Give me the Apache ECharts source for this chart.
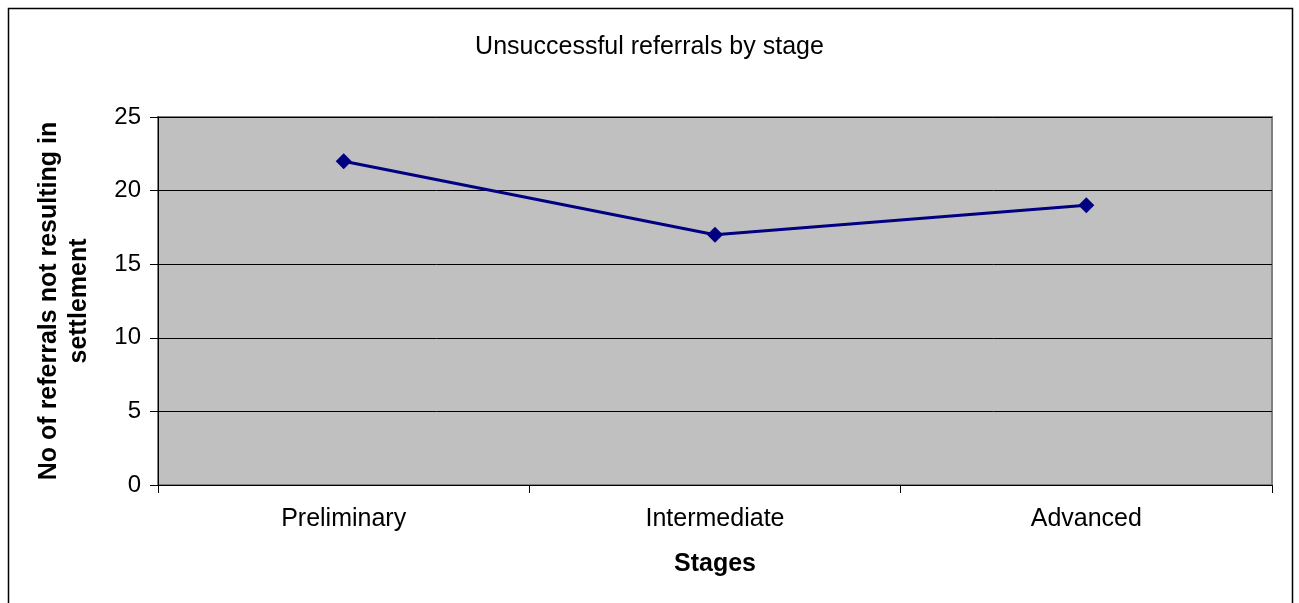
<!DOCTYPE html>
<html>
<head>
<meta charset="utf-8">
<script src="https://cdn.jsdelivr.net/npm/echarts@6/dist/echarts.min.js"></script>
<style>
html,body{margin:0;padding:0;background:#fff;}
#chart{width:1299px;height:603px;}
</style>
</head>
<body>
<div id="chart"></div>
<script>
var categories = ['Preliminary', 'Intermediate', 'Advanced'];
var values = [22, 17, 19];
var titleText = 'Unsuccessful referrals by stage';
var xName = 'Stages';
var yName = 'No of referrals not resulting in\nsettlement';

var chart = echarts.init(document.getElementById('chart'));
chart.setOption({
  backgroundColor: '#ffffff',
  animation: false,
  title: {
    text: titleText,
    left: 'center',
    top: 30,
    textStyle: {fontFamily: 'Liberation Sans', fontSize: 25, fontWeight: 'normal', color: '#000'}
  },
  graphic: [{
    type: 'rect',
    shape: {x: 8.5, y: 8.5, width: 1284, height: 700},
    style: {fill: 'none', stroke: '#000', lineWidth: 1.5},
    silent: true,
    z: 100
  }],
  grid: {
    left: 158, top: 117, right: 27, bottom: 118,
    show: true,
    backgroundColor: '#c0c0c0',
    borderColor: '#808080',
    borderWidth: 2
  },
  xAxis: {
    type: 'category',
    data: categories,
    boundaryGap: true,
    name: xName,
    nameLocation: 'middle',
    nameGap: 67,
    nameTextStyle: {fontFamily: 'Liberation Sans', fontSize: 25, fontWeight: 'bold', color: '#000'},
    axisLine: {show: true, lineStyle: {color: '#000', width: 1}},
    axisTick: {show: true, length: 8, alignWithLabel: false, lineStyle: {color: '#000'}},
    axisLabel: {margin: 22, fontFamily: 'Liberation Sans', fontSize: 25, color: '#000'},
    splitLine: {show: false}
  },
  yAxis: {
    type: 'value',
    min: 0, max: 25, interval: 5,
    name: yName,
    nameLocation: 'middle',
    nameGap: 64,
    nameTextStyle: {fontFamily: 'Liberation Sans', fontSize: 25, fontWeight: 'bold', color: '#000', lineHeight: 30},
    axisLine: {show: true, lineStyle: {color: '#000', width: 1}},
    axisTick: {show: true, length: 8, lineStyle: {color: '#000'}},
    axisLabel: {margin: 17, fontFamily: 'Liberation Sans', fontSize: 24, color: '#000'},
    splitLine: {show: true, lineStyle: {color: '#000', width: 1}}
  },
  series: [{
    type: 'line',
    data: values,
    symbol: 'diamond',
    symbolSize: 16,
    lineStyle: {color: '#000080', width: 3},
    itemStyle: {color: '#000080'}
  }]
});
</script>
</body>
</html>
